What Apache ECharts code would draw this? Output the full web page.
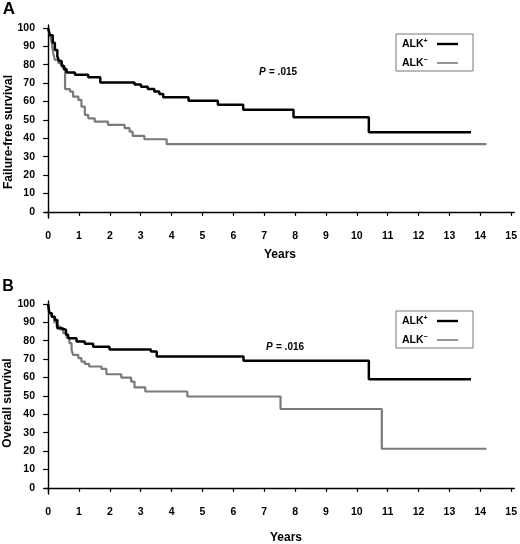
<!DOCTYPE html>
<html>
<head>
<meta charset="utf-8">
<script src="https://cdn.jsdelivr.net/npm/echarts@6/dist/echarts.min.js"></script>
<style>
  html, body { margin: 0; padding: 0; background: #fff; }
  #chart { width: 520px; height: 544px; }
</style>
</head>
<body>
<div id="chart"></div>
<script>
// tick labels
var yearTicks = [0, 1, 2, 3, 4, 5, 6, 7, 8, 9, 10, 11, 12, 13, 14, 15];
var pctTicks = [0, 10, 20, 30, 40, 50, 60, 70, 80, 90, 100];

// A: failure-free survival, [years, %] at each step
var ffsAlkPos = [[0, 100], [0.06, 96], [0.15, 92], [0.22, 88], [0.3, 84.5], [0.36, 82], [0.44, 79.5],
  [0.51, 77.5], [0.6, 75.8], [0.87, 74.5], [1.3, 73.2], [1.69, 70.3], [2.8, 69.2], [3.01, 68],
  [3.23, 66.8], [3.44, 65.4], [3.6, 64.1], [3.73, 62.3], [4.55, 60.4], [5.5, 58.2], [6.32, 55.6],
  [7.95, 51.5], [10.39, 43.3], [13.7, 43.3]];
var ffsAlkNeg = [[0, 100], [0.06, 96], [0.12, 92], [0.17, 86], [0.22, 82.6], [0.33, 80.8], [0.44, 79],
  [0.55, 66.8], [0.71, 65.4], [0.81, 62.7], [0.98, 60.9], [1.08, 57.2], [1.19, 52.7], [1.3, 50.9],
  [1.51, 49.1], [1.94, 47.3], [2.48, 45.5], [2.64, 43.6], [2.74, 41.3], [3.12, 39.5], [3.84, 36.8],
  [14.2, 36.8]];

// B: overall survival
var osAlkPos = [[0, 100], [0.04, 95], [0.12, 93.1], [0.22, 91.3], [0.3, 86.8], [0.44, 85.9], [0.58, 83.2],
  [0.65, 81.4], [0.92, 79.6], [1.19, 78.3], [1.46, 76.8], [1.99, 75.2], [3.33, 74.1], [3.52, 71.4],
  [6.33, 69.1], [10.39, 59.1], [13.7, 59.1]];
var osAlkNeg = [[0, 100], [0.04, 95], [0.12, 93], [0.2, 90], [0.28, 87.7], [0.4, 86], [0.49, 84.1],
  [0.6, 81.7], [0.69, 78.7], [0.76, 75], [0.81, 72.3], [0.98, 70.5], [1.08, 68.7], [1.19, 67.4],
  [1.33, 66], [1.73, 64.7], [1.89, 61.8], [2.37, 60], [2.69, 57.8], [2.8, 54.6], [3.15, 52.4],
  [4.51, 49.7], [7.53, 42.9], [10.81, 21.3], [14.2, 21.3]];

var pValues = ['.015', '.016'];

var FONT = '"Liberation Sans", Arial, sans-serif';
var BLACK = '#000';
var GRAY = '#7a7a7a';

var myChart = echarts.init(document.getElementById('chart'));

function xAx(i) {
    return {
        gridIndex: i, type: 'value', min: -0.1, max: 15.1,
        axisLine: { show: true, lineStyle: { color: '#000', width: 1.4 } },
        axisTick: { show: true, length: 4, customValues: yearTicks, lineStyle: { color: '#000', width: 1.2 } },
        axisLabel: { customValues: yearTicks, margin: 13, color: '#000', fontFamily: FONT, fontWeight: 'bold', fontSize: 10.5 },
        splitLine: { show: false }
    };
}
function yAx(i) {
    return {
        gridIndex: i, type: 'value', min: -3.3, max: 101.6,
        axisLine: { show: true, lineStyle: { color: '#000', width: 1.4 } },
        axisTick: { show: true, length: 5, customValues: pctTicks, lineStyle: { color: '#000', width: 1.2 } },
        axisLabel: { customValues: pctTicks, margin: 10, color: '#000', fontFamily: FONT, fontWeight: 'bold', fontSize: 10.5 },
        splitLine: { show: false }
    };
}
function km(name, data, i, color, w) {
    return {
        name: name, type: 'line', step: 'end', data: data,
        xAxisIndex: i, yAxisIndex: i, showSymbol: false, animation: false,
        lineStyle: { color: color, width: w }, itemStyle: { color: color }
    };
}

// legend box, drawn by hand
function legendBox(top) {
    var sup = { fontFamily: FONT, fontWeight: 'bold', fontSize: 7, verticalAlign: 'top', lineHeight: 13, fill: '#000' };
    var txt = { fontFamily: FONT, fontWeight: 'bold', fontSize: 10.5, lineHeight: 13, fill: '#000' };
    return [
        { type: 'rect', shape: { x: 396, y: top, width: 77, height: 37 }, style: { fill: 'none', stroke: '#777', lineWidth: 1 } },
        { type: 'text', x: 402, y: top + 10, style: { text: '{a|ALK}{s|+}', rich: { a: txt, s: sup }, verticalAlign: 'middle' } },
        { type: 'text', x: 402, y: top + 29, style: { text: '{a|ALK}{s|−}', rich: { a: txt, s: sup }, verticalAlign: 'middle' } },
        { type: 'line', shape: { x1: 437, y1: top + 10, x2: 458, y2: top + 10 }, style: { stroke: BLACK, lineWidth: 2.4 } },
        { type: 'line', shape: { x1: 437, y1: top + 29, x2: 458, y2: top + 29 }, style: { stroke: GRAY, lineWidth: 1.6 } }
    ];
}
function pText(x, y, val) {
    return { type: 'text', x: x, y: y, style: {
        text: '{i|P} {b|= ' + val + '}', verticalAlign: 'middle',
        rich: { i: { fontFamily: FONT, fontWeight: 'bold', fontStyle: 'italic', fontSize: 10 },
                b: { fontFamily: FONT, fontWeight: 'bold', fontSize: 10 } } } };
}
function bold(text, x, y, size, rot) {
    return { type: 'text', x: x, y: y, rotation: rot || 0, style: {
        text: text, fontFamily: FONT, fontWeight: 'bold', fontSize: size, fill: '#000',
        align: 'center', verticalAlign: 'middle' } };
}

var option = {
    backgroundColor: '#fff',
    animation: false,
    grid: [
        { left: 45, top: 25, width: 472.6, height: 193 },
        { left: 45, top: 301, width: 472.6, height: 193 }
    ],
    xAxis: [xAx(0), xAx(1)],
    yAxis: [yAx(0), yAx(1)],
    series: [
        km('ALK-', ffsAlkNeg, 0, GRAY, 2.2),
        km('ALK+', ffsAlkPos, 0, BLACK, 2.5),
        km('ALK-', osAlkNeg, 1, GRAY, 2.2),
        km('ALK+', osAlkPos, 1, BLACK, 2.5)
    ],
    graphic: [].concat(
        [bold('A', 9, 9, 17), bold('B', 8, 287, 16),
         bold('Failure-free survival', 9, 132, 12, Math.PI / 2),
         bold('Overall survival', 8, 403, 12, Math.PI / 2),
         bold('Years', 280, 255, 12), bold('Years', 286, 538, 12),
         pText(259, 72, pValues[0]), pText(266, 347, pValues[1])],
        legendBox(34), legendBox(311)
    )
};

myChart.setOption(option);
</script>
</body>
</html>
